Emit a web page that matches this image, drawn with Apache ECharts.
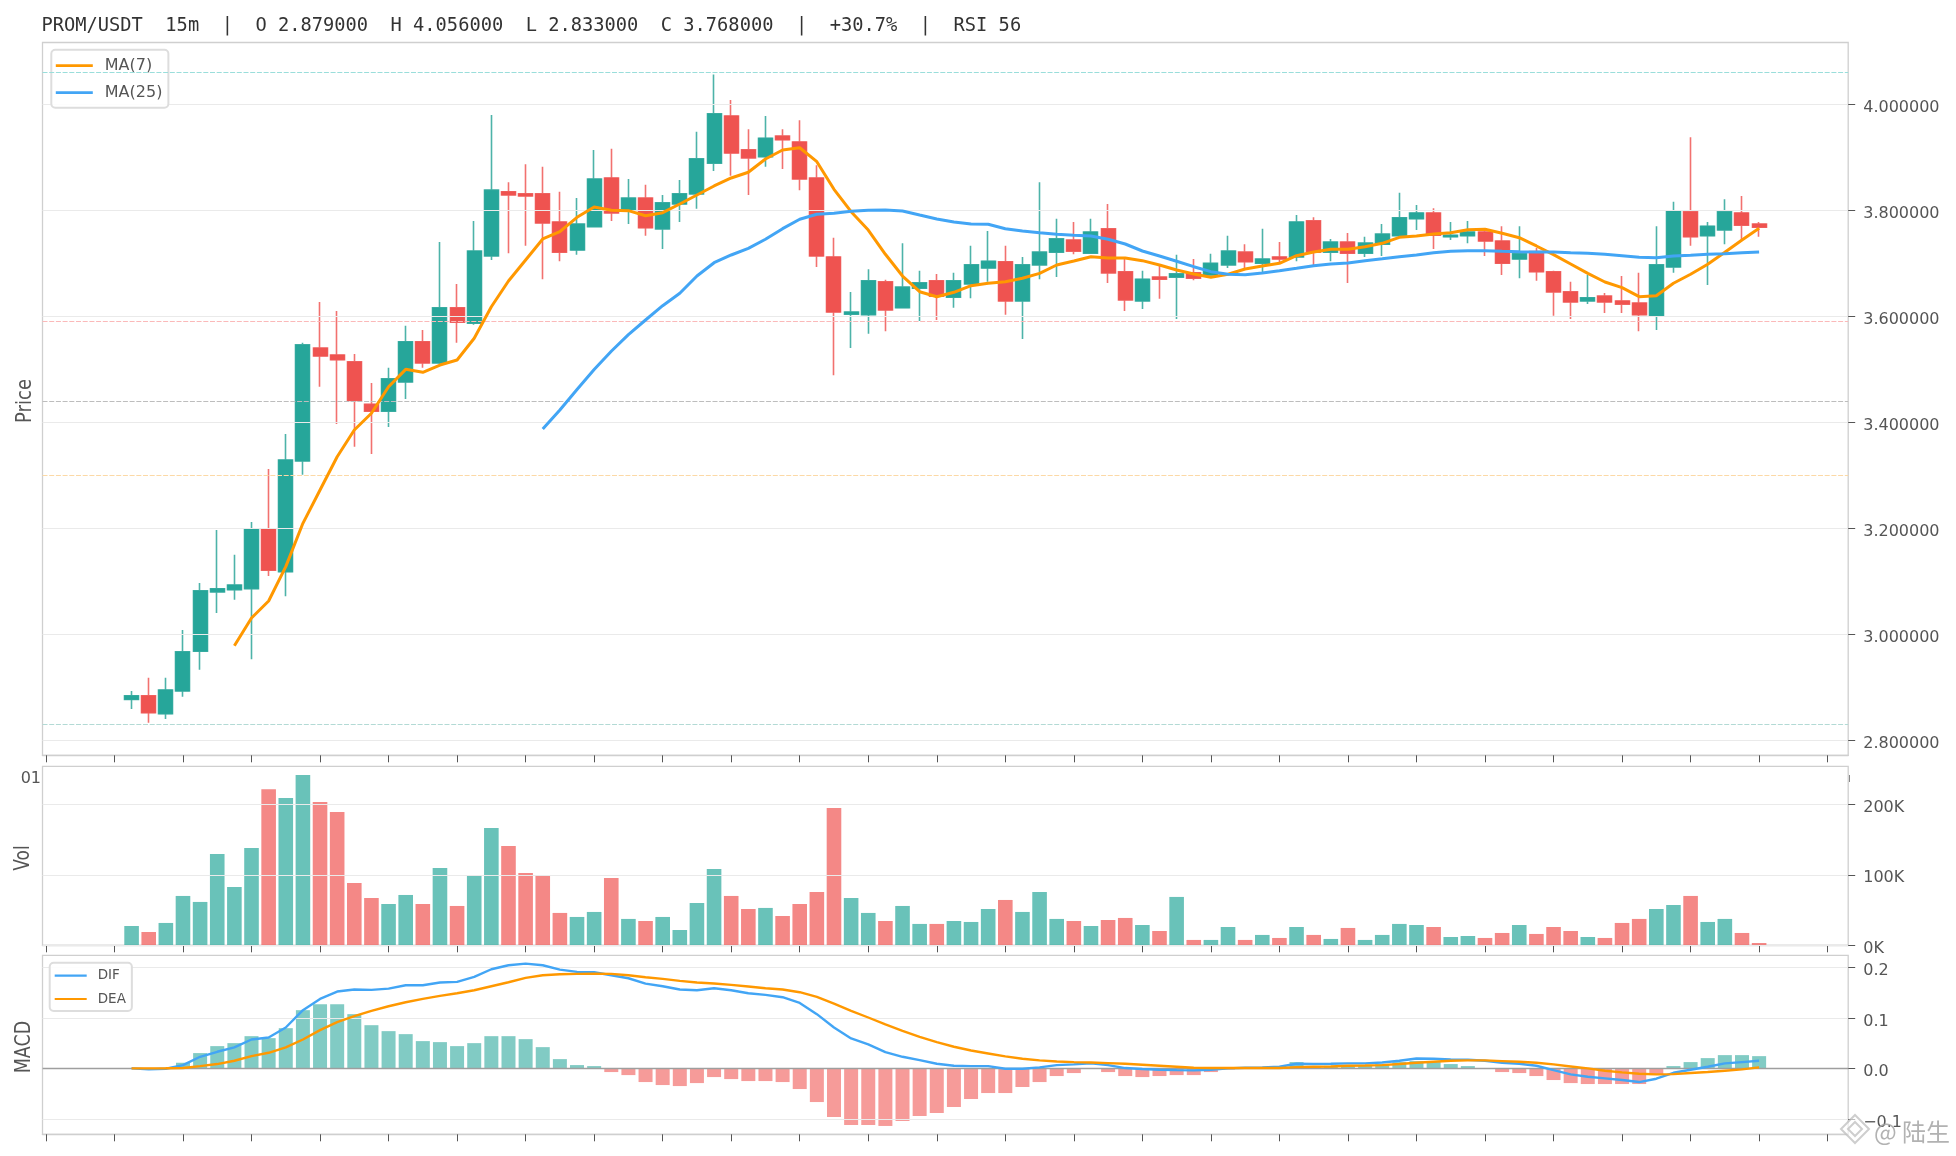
<!DOCTYPE html>
<html><head><meta charset="utf-8">
<script src="https://cdn.jsdelivr.net/npm/echarts@6/dist/echarts.min.js"></script>
<style>html,body{margin:0;padding:0;background:#fff}#c{width:1956px;height:1156px}</style>
</head><body><div id="c"></div>
<script>
const titleText = "PROM/USDT  15m  |  O 2.879000  H 4.056000  L 2.833000  C 3.768000  |  +30.7%  |  RSI 56";
const firstBarIndex = 5;
const tickPositions = [0,4,8,12,16,20,24,28,32,36,40,44,48,52,56,60,64,68,72,76,80,84,88,92,96,100,104];
const priceTicks = [2.8,3.0,3.2,3.4,3.6,3.8,4.0];
const volTicks = [0,100000,200000];
const macdTicks = [-0.1,0,0.1,0.2];
const levels = [4.056,3.589,3.4445,3.3,2.833];
const levelColors = ['#9adedb','#fbb9b9','#bdbdbd','#fcd9a6','#b3dad5'];

const opens = [2.877,2.884,2.850,2.893,2.968,3.080,3.084,3.086,3.199,3.118,3.327,3.540,3.527,3.514,3.434,3.421,3.476,3.552,3.512,3.616,3.587,3.714,3.835,3.831,3.831,3.778,3.725,3.769,3.861,3.801,3.823,3.765,3.812,3.831,3.889,3.978,3.914,3.901,3.940,3.929,3.861,3.712,3.604,3.603,3.665,3.616,3.653,3.667,3.636,3.661,3.691,3.703,3.629,3.697,3.721,3.744,3.719,3.765,3.684,3.629,3.674,3.674,3.682,3.678,3.697,3.721,3.700,3.712,3.712,3.780,3.721,3.740,3.719,3.736,3.752,3.784,3.795,3.750,3.752,3.759,3.742,3.708,3.722,3.684,3.646,3.629,3.638,3.629,3.625,3.601,3.693,3.797,3.752,3.763,3.795,3.774];
const closes = [2.884,2.852,2.895,2.967,3.082,3.086,3.093,3.199,3.121,3.329,3.546,3.525,3.518,3.441,3.421,3.482,3.552,3.512,3.616,3.589,3.723,3.838,3.829,3.827,3.776,3.721,3.774,3.859,3.795,3.823,3.767,3.814,3.831,3.897,3.982,3.908,3.899,3.936,3.933,3.859,3.714,3.608,3.608,3.667,3.612,3.655,3.663,3.638,3.667,3.697,3.704,3.629,3.697,3.721,3.746,3.723,3.759,3.682,3.631,3.670,3.670,3.680,3.672,3.700,3.723,3.703,3.708,3.708,3.778,3.721,3.740,3.719,3.738,3.755,3.786,3.795,3.753,3.753,3.759,3.742,3.700,3.718,3.684,3.646,3.627,3.635,3.627,3.623,3.603,3.697,3.799,3.750,3.770,3.797,3.772,3.768];
const lows = [2.859,2.833,2.840,2.882,2.933,3.040,3.065,2.953,3.110,3.072,3.301,3.467,3.397,3.354,3.340,3.391,3.444,3.503,3.510,3.550,3.584,3.706,3.719,3.733,3.670,3.704,3.716,3.768,3.780,3.774,3.752,3.727,3.778,3.803,3.874,3.865,3.829,3.882,3.878,3.838,3.693,3.489,3.540,3.567,3.572,3.615,3.591,3.593,3.616,3.634,3.665,3.603,3.557,3.670,3.674,3.717,3.718,3.663,3.610,3.614,3.633,3.595,3.668,3.677,3.691,3.691,3.682,3.700,3.704,3.697,3.704,3.663,3.712,3.714,3.748,3.763,3.727,3.744,3.738,3.714,3.678,3.672,3.667,3.601,3.595,3.623,3.606,3.606,3.572,3.574,3.682,3.733,3.659,3.736,3.742,3.750];
const highs = [2.893,2.918,2.918,3.008,3.097,3.197,3.150,3.212,3.312,3.378,3.550,3.627,3.610,3.529,3.474,3.503,3.582,3.574,3.740,3.661,3.780,3.980,3.853,3.887,3.882,3.835,3.823,3.914,3.916,3.859,3.848,3.829,3.857,3.948,4.056,4.008,3.953,3.978,3.953,3.970,3.885,3.748,3.646,3.689,3.669,3.738,3.686,3.680,3.682,3.733,3.761,3.733,3.712,3.853,3.784,3.778,3.784,3.812,3.710,3.686,3.697,3.716,3.708,3.718,3.752,3.736,3.765,3.740,3.791,3.787,3.746,3.757,3.750,3.774,3.833,3.810,3.804,3.778,3.780,3.763,3.770,3.770,3.729,3.686,3.665,3.678,3.644,3.676,3.682,3.770,3.816,3.938,3.778,3.821,3.827,3.778];
const ma7 = [null,null,null,null,null,null,2.9785,3.0308,3.0628,3.1276,3.2094,3.2723,3.3351,3.3855,3.417,3.467,3.4999,3.4943,3.508,3.5176,3.5585,3.618,3.6666,3.7062,3.7459,3.7596,3.7868,3.8062,3.8,3.7993,3.7898,3.7955,3.8119,3.8289,3.8459,3.861,3.8717,3.8968,3.9138,3.918,3.8917,3.8396,3.7974,3.7628,3.717,3.676,3.6464,3.637,3.6453,3.6578,3.6623,3.6653,3.6717,3.6811,3.6968,3.7043,3.7125,3.71,3.71,3.705,3.6968,3.6874,3.6798,3.6736,3.6793,3.6892,3.6949,3.7,3.7143,3.7213,3.7264,3.7264,3.7313,3.7377,3.749,3.7515,3.7553,3.7578,3.7634,3.7642,3.7566,3.7483,3.7327,3.7163,3.6987,3.6811,3.6647,3.654,3.637,3.6389,3.6623,3.6793,3.6981,3.7208,3.744,3.766];
const ma25 = [null,null,null,null,null,null,null,null,null,null,null,null,null,null,null,null,null,null,null,null,null,null,null,null,3.3874,3.4232,3.462,3.4996,3.534,3.5653,3.593,3.62,3.6434,3.676,3.7011,3.7157,3.7283,3.7453,3.7653,3.783,3.7925,3.7943,3.7981,3.8,3.8006,3.7987,3.7911,3.7836,3.7779,3.7742,3.7736,3.7653,3.761,3.7578,3.7547,3.7528,3.7515,3.7453,3.7364,3.7232,3.7138,3.7038,3.6936,3.6842,3.6793,3.6785,3.6817,3.686,3.6905,3.6955,3.6987,3.7006,3.705,3.7087,3.7125,3.7157,3.72,3.7226,3.7238,3.7238,3.7226,3.7219,3.7213,3.7213,3.72,3.7189,3.717,3.7143,3.7113,3.7106,3.7138,3.7151,3.717,3.7181,3.72,3.7213];
const volumes = [27400,18900,31700,70000,61500,129500,82700,138000,221300,209000,241600,203300,189000,88400,67100,58600,71400,58600,109700,55800,99800,166400,140900,102600,98300,45900,40200,47300,95500,37400,34500,40200,21700,60000,108300,70000,51500,53000,41600,58600,75600,194800,67100,45900,34500,55800,30300,30300,34500,33100,51500,64300,47300,75600,37400,34500,27400,35900,38800,28800,20300,68600,7600,7600,26000,7600,14700,10400,26000,14700,9000,24600,7600,14700,30300,28800,26000,11800,13200,10400,17500,28800,16100,26000,20300,11800,10400,31700,37400,51500,57200,70000,33100,37400,17500,3300];
const hist = [0.0003,-0.0010,0.0010,0.0112,0.0303,0.0441,0.05,0.0638,0.0599,0.0796,0.1152,0.127,0.127,0.1073,0.0855,0.0737,0.0678,0.054,0.052,0.0441,0.05,0.0638,0.0638,0.0579,0.0421,0.0184,0.0066,0.0046,-0.0072,-0.0132,-0.027,-0.0329,-0.0349,-0.029,-0.0171,-0.0211,-0.025,-0.025,-0.027,-0.0408,-0.0665,-0.0961,-0.1119,-0.1119,-0.1138,-0.104,-0.0941,-0.0882,-0.0763,-0.0605,-0.0487,-0.0487,-0.0368,-0.027,-0.0151,-0.0092,-0.0005,-0.0072,-0.0151,-0.0171,-0.0151,-0.0132,-0.0132,-0.0072,-0.002,-0.0007,0.0005,0.001,0.0125,0.0046,0.005,0.0046,0.0066,0.0086,0.0125,0.0145,0.0125,0.0086,0.0046,0.0002,-0.0072,-0.0092,-0.0151,-0.023,-0.029,-0.0309,-0.0309,-0.0309,-0.0309,-0.0132,0.0046,0.0125,0.0204,0.0263,0.0263,0.0243];
const dif = [0,-0.002,-0.0007,0.0066,0.023,0.0329,0.0415,0.0572,0.0612,0.0809,0.1152,0.1375,0.152,0.156,0.1553,0.1579,0.1645,0.1645,0.1698,0.1711,0.181,0.1961,0.204,0.2073,0.204,0.1954,0.1908,0.1902,0.1842,0.1783,0.1678,0.1625,0.156,0.1546,0.1586,0.1546,0.1487,0.1454,0.1408,0.1296,0.1073,0.0809,0.0592,0.0474,0.0322,0.023,0.0165,0.0092,0.0053,0.0046,0.0046,-0.0007,-0.0007,0.002,0.0066,0.0079,0.0099,0.0066,0.0007,-0.0013,-0.0026,-0.0033,-0.0039,-0.0026,0,0.0013,0.002,0.0033,0.0092,0.0086,0.0092,0.0099,0.0099,0.0118,0.0151,0.0197,0.0191,0.0178,0.0171,0.0151,0.0112,0.0092,0.0053,-0.0033,-0.0118,-0.0165,-0.0197,-0.023,-0.027,-0.0204,-0.0086,-0.0026,0.0033,0.0099,0.0125,0.0151];
const dea = [0,0,0.0002,0.0007,0.0046,0.0086,0.0151,0.0243,0.0309,0.0415,0.0572,0.0757,0.0915,0.1033,0.1138,0.123,0.1309,0.1375,0.1434,0.1487,0.1546,0.1625,0.1704,0.179,0.1842,0.1862,0.1869,0.1875,0.1869,0.1842,0.1803,0.177,0.1731,0.1698,0.1678,0.1652,0.1619,0.1586,0.156,0.1507,0.1415,0.1283,0.1138,0.1007,0.0869,0.0744,0.0625,0.052,0.0428,0.0355,0.0296,0.0237,0.0191,0.0158,0.0138,0.0125,0.0118,0.0105,0.0092,0.0072,0.0053,0.0033,0.0013,0.0007,0.0007,0.0007,0.0007,0.0007,0.0026,0.0033,0.0039,0.0053,0.0059,0.0066,0.0086,0.0112,0.0132,0.0151,0.0158,0.0158,0.0145,0.0132,0.0112,0.0079,0.0039,0,-0.0046,-0.0079,-0.0105,-0.0118,-0.0112,-0.0092,-0.0072,-0.0046,-0.002,0.002];

const UP = '#26a69a', DOWN = '#ef5350', ORANGE = '#ff9800', BLUE = '#42a5f5';
const xOf = i => firstBarIndex + i;
const pairs = arr => arr.map((v, i) => v === null ? null : [xOf(i), v]).filter(Boolean);
const candleData = opens.map((o, i) => [xOf(i), o, closes[i], lows[i], highs[i]]);
const bodyData = opens.map((o, i) => [xOf(i), o, closes[i], Math.min(o, closes[i]), Math.max(o, closes[i])]);
const volData = volumes.map((v, i) => ({value: [xOf(i), v], itemStyle: {color: closes[i] >= opens[i] ? 'rgba(38,166,154,.69)' : 'rgba(239,83,80,.69)'}}));
const histData = hist.map((v, i) => ({value: [xOf(i), v], itemStyle: {color: v >= 0 ? 'rgba(38,166,154,.58)' : 'rgba(239,83,80,.58)'}}));

const L = 42.5, R = 1956 - 1848.2;
const grids = [
  {left: L, right: R, top: 42.5, height: 712.8},
  {left: L, right: R, top: 766.3, height: 179},
  {left: L, right: R, top: 955.3, height: 179}
].map(g => Object.assign(g, {show: true, borderColor: '#cfcfcf', borderWidth: 1.3, backgroundColor: '#fff', containLabel: false}));

const xAxisOf = idx => ({
  type: 'value', gridIndex: idx, min: -0.2, max: 105.2, position: 'bottom',
  axisLine: {show: true, onZero: false, lineStyle: {color: '#cfcfcf', width: 1.3}},
  axisTick: {show: true, length: 7, lineStyle: {color: '#555', width: 1}, customValues: tickPositions},
  axisLabel: {show: false}, splitLine: {show: false}
});
const yAxisOf = (idx, min, max, ticks, fmt) => ({
  type: 'value', gridIndex: idx, min, max, position: 'right', z: 3, scale: true,
  axisLine: {show: false, onZero: false},
  axisTick: {show: true, length: 7, lineStyle: {color: '#555', width: 1}, customValues: ticks},
  axisLabel: {show: true, color: '#555', fontFamily: 'DejaVu Sans', fontSize: 16, margin: 15, verticalAlign: 'top', lineHeight: 7, customValues: ticks, formatter: fmt, showMinLabel: true, showMaxLabel: true, hideOverlap: false},
  splitLine: {show: true, lineStyle: {color: '#eaeaea', width: 1.2}}
});

const sideLabel = (text, x, y, size) => ({
  type: 'text', x, y, rotation: Math.PI / 2, scaleY: 1.2, silent: true, z: 10,
  style: {text, fill: '#555', font: size + 'px "DejaVu Sans"', textAlign: 'center', textVerticalAlign: 'middle'}
});
const diamond = (cx, cy, r) => ({
  type: 'polygon', silent: true, z: 11,
  shape: {points: [[cx, cy - r], [cx + r, cy], [cx, cy + r], [cx - r, cy]]},
  style: {fill: 'rgba(255,255,255,.6)', stroke: 'rgba(190,190,190,.75)', lineWidth: 2}
});

const option = {
  animation: false, backgroundColor: '#fff',
  textStyle: {fontFamily: 'DejaVu Sans'},
  title: {text: titleText, left: 41.5, top: 17, padding: 0, textStyle: {fontFamily: 'DejaVu Sans Mono', fontSize: 18.72, fontWeight: 'normal', color: '#333'}},
  grid: grids,
  xAxis: [xAxisOf(0), xAxisOf(1), xAxisOf(2)],
  yAxis: [
    yAxisOf(0, 2.7717, 4.1166, priceTicks, v => v.toFixed(6)),
    yAxisOf(1, 0, 253900, volTicks, v => Math.round(v / 1000) + 'K'),
    yAxisOf(2, -0.1303, 0.2237, macdTicks, v => v.toFixed(1).replace('-', '\u2212'))
  ],
  legend: [
    {data: ['MA(7)', 'MA(25)'], orient: 'vertical', left: 51.3, top: 49.7, padding: [8, 6, 7, 4.5], icon: 'rect', itemWidth: 37, itemHeight: 2.8, itemGap: 11,
     backgroundColor: 'rgba(255,255,255,.9)', borderColor: '#dddddd', borderWidth: 2, borderRadius: 4,
     textStyle: {fontFamily: 'DejaVu Sans', fontSize: 16, color: '#555', padding: [0, 0, 0, 7]}},
    {data: ['DIF', 'DEA'], orient: 'vertical', left: 49.7, top: 962.7, padding: [6, 6, 5, 5], icon: 'rect', itemWidth: 32, itemHeight: 2.2, itemGap: 9.3,
     backgroundColor: 'rgba(255,255,255,.9)', borderColor: '#dddddd', borderWidth: 2, borderRadius: 4,
     textStyle: {fontFamily: 'DejaVu Sans', fontSize: 13.5, color: '#555', padding: [0, 0, 0, 6]}}
  ],
  series: [
    {type: 'candlestick', name: 'K', xAxisIndex: 0, yAxisIndex: 0, z: 2, barWidth: 14.5, data: candleData,
     itemStyle: {color: UP, color0: DOWN, borderColor: '#4db3a9', borderColor0: '#f2716f', borderWidth: 1.6},
     markLine: {silent: true, symbol: 'none', animation: false, label: {show: false},
       data: levels.map((v, i) => ({yAxis: v, lineStyle: {color: levelColors[i], type: [5, 1.7], width: 1.1}}))}},
    {type: 'candlestick', name: 'Body', xAxisIndex: 0, yAxisIndex: 0, z: 2, barWidth: 14.5, data: bodyData,
     itemStyle: {color: UP, color0: DOWN, borderColor: UP, borderColor0: DOWN, borderWidth: 0.6}},
    {type: 'line', name: 'MA(7)', xAxisIndex: 0, yAxisIndex: 0, z: 6, data: pairs(ma7), showSymbol: false, symbol: 'none', itemStyle: {color: ORANGE}, lineStyle: {color: ORANGE, width: 3}},
    {type: 'line', name: 'MA(25)', xAxisIndex: 0, yAxisIndex: 0, z: 6, data: pairs(ma25), showSymbol: false, symbol: 'none', itemStyle: {color: BLUE}, lineStyle: {color: BLUE, width: 3}},
    {type: 'bar', name: 'Vol', xAxisIndex: 1, yAxisIndex: 1, z: 2, barWidth: 14.6, data: volData},
    {type: 'bar', name: 'Hist', xAxisIndex: 2, yAxisIndex: 2, z: 2, barWidth: 14, data: histData,
     markLine: {silent: true, symbol: 'none', animation: false, label: {show: false}, data: [{yAxis: 0, lineStyle: {color: '#9e9e9e', type: 'solid', width: 1.4}}]}},
    {type: 'line', name: 'DIF', xAxisIndex: 2, yAxisIndex: 2, z: 6, data: pairs(dif), showSymbol: false, symbol: 'none', itemStyle: {color: BLUE}, lineStyle: {color: BLUE, width: 2.4}},
    {type: 'line', name: 'DEA', xAxisIndex: 2, yAxisIndex: 2, z: 6, data: pairs(dea), showSymbol: false, symbol: 'none', itemStyle: {color: ORANGE}, lineStyle: {color: ORANGE, width: 2.4}}
  ],
  graphic: {elements: [
    sideLabel('Price', 25, 401, 18),
    sideLabel('Vol', 23.5, 858, 17),
    sideLabel('MACD', 25, 1047, 17.5),
    {type: 'text', x: 41, y: 779, silent: true, z: 10, style: {text: '01', fill: '#555', font: '16px "DejaVu Sans"', textAlign: 'right', textVerticalAlign: 'middle'}},
    {type: 'rect', silent: true, z: 10, shape: {x: 1849, y: 775, width: 1, height: 7}, style: {fill: '#888'}},
    diamond(1855, 1129, 14), diamond(1855, 1129, 7),
    {type: 'text', x: 1874, y: 1132, silent: true, z: 12, style: {text: '@ 陆生', fill: 'rgba(165,165,165,.85)', font: '24px "Noto Sans CJK SC"', textAlign: 'left', textVerticalAlign: 'middle'}}
  ]}
};
const chart = echarts.init(document.getElementById('c'), null, {renderer: 'canvas', width: 1956, height: 1156});
chart.setOption(option);
</script>
</body></html>
